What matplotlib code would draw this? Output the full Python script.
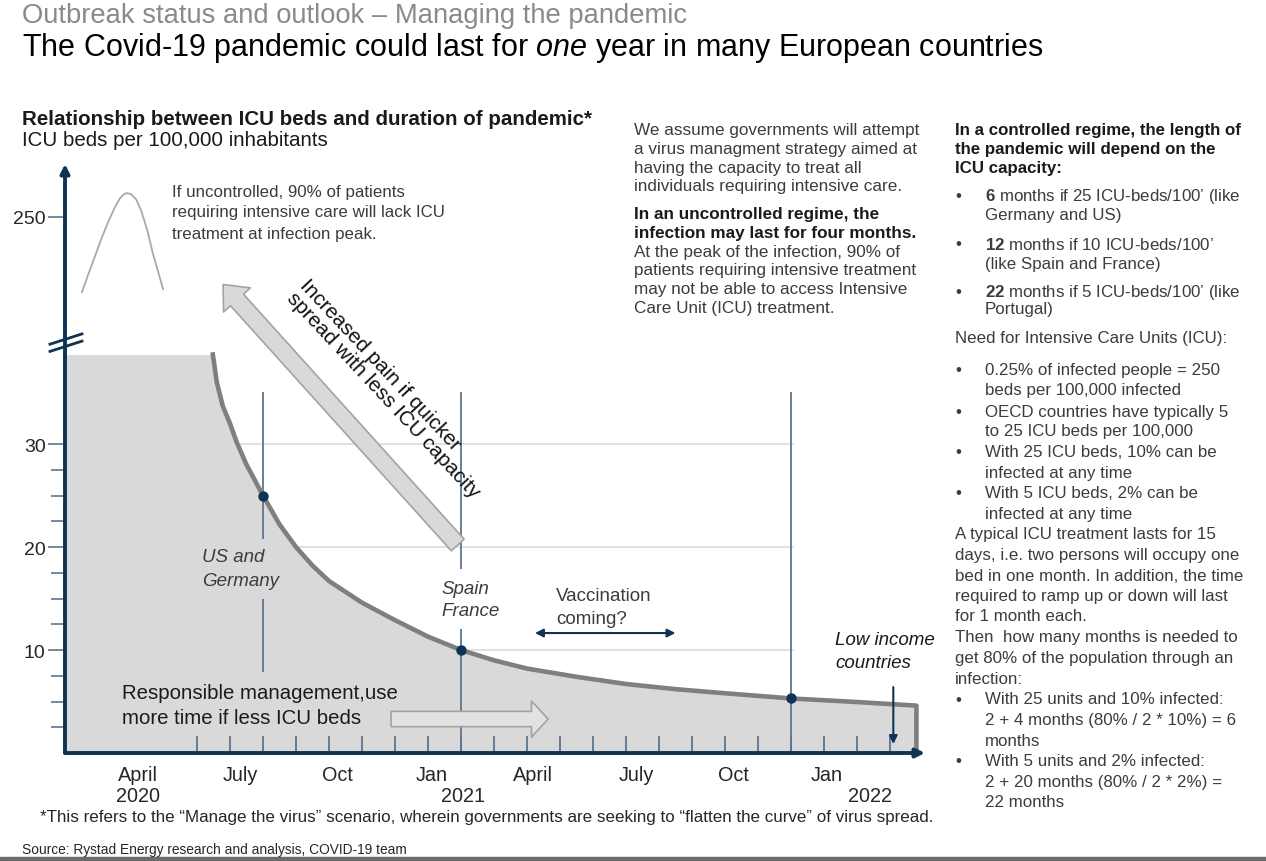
import matplotlib
matplotlib.use("Agg")
import matplotlib.pyplot as plt
from matplotlib.patches import FancyArrowPatch, ArrowStyle, Rectangle

W, H = 1266, 862
plt.rcParams['font.family'] = ['Liberation Sans', 'DejaVu Sans']
plt.rcParams['mathtext.fontset'] = 'custom'
plt.rcParams['mathtext.rm'] = 'Liberation Sans'
plt.rcParams['mathtext.it'] = 'Liberation Sans:italic'
plt.rcParams['mathtext.bf'] = 'Liberation Sans:bold'

# ---------------- data ----------------
# months after the start of the pandemic vs ICU beds per 100,000
months_from_start = [0, 4.48, 4.6, 4.78, 5.0, 5.2, 5.5, 6.0, 6.5, 7.0, 7.5, 8.0, 9.0, 10.0,
                     11.0, 12.0, 13.0, 14.0, 15.5, 17.0, 18.5, 20.0, 22.0, 24.0, 25.8]
icu_beds = [38.7, 38.7, 36.0, 33.7, 32.0, 30.2, 28.0, 25.0, 22.2, 20.0, 18.2, 16.7, 14.6, 12.9,
            11.3, 10.0, 9.0, 8.2, 7.4, 6.7, 6.2, 5.8, 5.3, 4.95, 4.6]
# country markers
country_months = [6, 12, 22]
country_beds = [25, 10, 5.3]
# uncontrolled peak sketch (drawn above the axis break)
uncontrolled_months = [0.515, 0.697, 0.909, 1.121, 1.333, 1.515, 1.667, 1.788, 1.879, 2.0,
                       2.152, 2.303, 2.485, 2.667, 2.818, 2.97]
uncontrolled_level = [44.76, 46.41, 48.25, 50.10, 51.75, 53.01, 53.88, 54.27, 54.37, 54.27,
                      53.79, 52.72, 50.87, 48.45, 46.8, 45.05]
# axis labels
month_label_pos = [2.21, 5.3, 8.27, 11.12, 14.18, 17.3, 20.27, 23.09]
month_labels = ['April', 'July', 'Oct', 'Jan', 'April', 'July', 'Oct', 'Jan']
year_label_pos = [2.2, 12.06, 24.4]
year_labels = ['2020', '2021', '2022']
ytick_values = [10, 20, 30]
upper_tick_label = '250'
upper_tick_pos = 52.1   # position of 250 above the axis break
grid_levels = [10, 20, 30]

NAVY = '#0f3354'
LINE = '#5b7590'
TXT = '#3c3c3c'

fig = plt.figure(figsize=(W / 100, H / 100), dpi=100)
fig.patch.set_facecolor('white')


def ftext(x, y, s, **kw):
    kw.setdefault('va', 'center')
    return fig.text(x / W, 1 - y / H, s, **kw)


# ---------------- axes ----------------
x0, x1, ytop, ybot = 65, 925, 165, 754
ax = fig.add_axes([x0 / W, 1 - ybot / H, (x1 - x0) / W, (ybot - ytop) / H])
ax.set_xlim(0, 26.06)
ax.set_ylim(0, 57.2)
ax.patch.set_alpha(0)
for s in ax.spines.values():
    s.set_visible(False)

# grid
ax.hlines(grid_levels, 0, 22.1, color='#dcdcdc', lw=1.2, zorder=0)

# shaded area and curve
ax.fill_between(months_from_start, icu_beds, 0, color='#d9d9d9', lw=0, zorder=1)
ax.plot(months_from_start[1:] + [months_from_start[-1]], icu_beds[1:] + [0],
        color='#7f7f7f', lw=3.3, zorder=3, solid_joinstyle='round', clip_on=False)

# vertical reference lines (gaps for labels)
ax.vlines([6, 6], [20.8, 7.9], [35.1, 15.0], color=LINE, lw=1.3, zorder=2)
ax.vlines([12, 12], [17.9, 0], [35.1, 12.0], color=LINE, lw=1.3, zorder=2)
ax.vlines([22], [0], [35.1], color=LINE, lw=1.3, zorder=2)
ax.scatter(country_months, country_beds, s=42, color=NAVY, zorder=6)

# uncontrolled sketch
ax.plot(uncontrolled_months, uncontrolled_level, color='#a9a9a9', lw=1.3, zorder=2)

# axis arrows
ax.annotate('', xy=(1.0, 0), xytext=(0, 0), xycoords='axes fraction',
            arrowprops=dict(arrowstyle='-|>', color=NAVY, lw=2.8, mutation_scale=13,
                            shrinkA=0, shrinkB=0), zorder=7)
ax.annotate('', xy=(0, 1.0), xytext=(0, 0), xycoords='axes fraction',
            arrowprops=dict(arrowstyle='-|>', color=NAVY, lw=2.8, mutation_scale=13,
                            shrinkA=0, shrinkB=0), zorder=7)

# axis break marks
ax.plot([-0.455, 0.515], [39.7, 40.7], color=NAVY, lw=2, clip_on=False, zorder=8)
ax.plot([-0.455, 0.515], [39.0, 40.0], color=NAVY, lw=2, clip_on=False, zorder=8)

# y ticks
ax.set_yticks(ytick_values + [upper_tick_pos], labels=[str(v) for v in ytick_values] + [upper_tick_label])
ax.set_yticks([2.5, 5, 7.5, 12.5, 15, 17.5, 22.5, 25, 27.5], minor=True)
ax.tick_params(axis='y', which='major', direction='out', length=12, width=1.2,
               color=LINE, labelsize=14, labelcolor='#262626', pad=2)
ax.tick_params(axis='y', which='minor', direction='out', length=10, width=1.2, color=LINE)

# x ticks
ax.set_xticks(month_label_pos, labels=month_labels)
ax.set_xticks(list(range(4, 26)), minor=True)
ax.tick_params(axis='x', which='major', length=0, labelsize=14.3, labelcolor='#262626', pad=9)
ax.tick_params(axis='x', which='minor', direction='in', length=12, width=1.3, color=LINE)
xt = ax.get_xaxis_transform()
for p, lab in zip(year_label_pos, year_labels):
    ax.text(p, -(797 - 754) / (754 - 165), lab, transform=xt, ha='center', va='center',
            fontsize=14.3, color='#262626')

# block arrows
pain = FancyArrowPatch(posA=(11.9, 20.2), posB=(4.79, 45.5),
                       arrowstyle=ArrowStyle.Simple(head_length=15, head_width=26, tail_width=12.5),
                       mutation_scale=1, fc='#d9d9d9', ec='#a3a3a3', lw=1.2,
                       shrinkA=0, shrinkB=0, zorder=4)
ax.add_patch(pain)
resp = FancyArrowPatch(posA=(9.88, 3.3), posB=(14.64, 3.3),
                       arrowstyle=ArrowStyle.Simple(head_length=12, head_width=26, tail_width=11),
                       mutation_scale=1, fc='#e2e2e2', ec='#a3a3a3', lw=1.2,
                       shrinkA=0, shrinkB=0, zorder=4)
ax.add_patch(resp)
ax.annotate('', xy=(18.5, 11.65), xytext=(14.24, 11.65),
            arrowprops=dict(arrowstyle='<|-|>', color=NAVY, lw=1.5, mutation_scale=12,
                            shrinkA=0, shrinkB=0), zorder=6)
ax.annotate('', xy=(25.1, 0.87), xytext=(25.1, 6.4),
            arrowprops=dict(arrowstyle='-|>', color=NAVY, lw=1.5, mutation_scale=12,
                            shrinkA=0, shrinkB=0), zorder=6)

# ---------------- text ----------------
ftext(22, 16, 'Outbreak status and outlook – Managing the pandemic', fontsize=19.7, color='#8a8a8a')
ftext(22, 48, r'The Covid-19 pandemic could last for $\mathit{one}$ year in many European countries',
      fontsize=22.0, color='black')
ftext(22, 120, 'Relationship between ICU beds and duration of pandemic*', fontsize=14.8,
      fontweight='bold', color='#1a1a1a')
ftext(22, 140, 'ICU beds per 100,000 inhabitants', fontsize=14.8, color='#1a1a1a')

for i, s in enumerate(['If uncontrolled, 90% of patients',
                       'requiring intensive care will lack ICU',
                       'treatment at infection peak.']):
    ftext(172, 192 + 21 * i, s, fontsize=12.2, color=TXT)

ftext(390, 389, 'Increased pain if quicker\nspread with less ICU capacity', fontsize=15,
      rotation=-47, ha='center', va='center', rotation_mode='anchor', multialignment='left',
      color='#111111', linespacing=0.92)

ftext(202, 558, 'US and', fontsize=13.5, style='italic', color=TXT)
ftext(202, 582, 'Germany', fontsize=13.5, style='italic', color=TXT)
ftext(441, 589, 'Spain', fontsize=13.5, style='italic', color=TXT)
ftext(441, 611, 'France', fontsize=13.5, style='italic', color=TXT)
ftext(556, 597, 'Vaccination', fontsize=13.5, color=TXT)
ftext(556, 620, 'coming?', fontsize=13.5, color=TXT)
ftext(835, 641, 'Low income', fontsize=13.5, style='italic', color='#1a1a1a')
ftext(835, 664, 'countries', fontsize=13.5, style='italic', color='#1a1a1a')
ftext(122, 694, 'Responsible management,use', fontsize=14.7, color='#1a1a1a')
ftext(122, 719, 'more time if less ICU beds', fontsize=14.7, color='#1a1a1a')

mid_lines = [
    ('We assume governments will attempt', 'normal'),
    ('a virus managment strategy aimed at', 'normal'),
    ('having the capacity to treat all', 'normal'),
    ('individuals requiring intensive care.', 'normal'),
    ('In an uncontrolled regime, the', 'bold'),
    ('infection may last for four months.', 'bold'),
    ('At the peak of the infection, 90% of', 'normal'),
    ('patients requiring intensive treatment', 'normal'),
    ('may not be able to access Intensive', 'normal'),
    ('Care Unit (ICU) treatment.', 'normal'),
]
mid_y = [131, 149.7, 168.4, 187, 214.5, 233.2, 252, 270.6, 289.3, 308]
for (s, w), y in zip(mid_lines, mid_y):
    ftext(634, y, s, fontsize=12.3, fontweight=w, color='#1a1a1a' if w == 'bold' else TXT)

right_lines = [
    (131, 'p', 'In a controlled regime, the length of', 'bold'),
    (149.5, 'p', 'the pandemic will depend on the', 'bold'),
    (168.5, 'p', 'ICU capacity:', 'bold'),
    (197, 'b', r'$\mathbf{6}$ months if 25 ICU-beds/100’ (like', 'normal'),
    (216, 'i', 'Germany and US)', 'normal'),
    (245, 'b', r'$\mathbf{12}$ months if 10 ICU-beds/100’', 'normal'),
    (264, 'i', '(like Spain and France)', 'normal'),
    (292, 'b', r'$\mathbf{22}$ months if 5 ICU-beds/100’ (like', 'normal'),
    (310, 'i', 'Portugal)', 'normal'),
    (339, 'p', 'Need for Intensive Care Units (ICU):', 'normal'),
    (371, 'b', '0.25% of infected people = 250', 'normal'),
    (391, 'i', 'beds per 100,000 infected', 'normal'),
    (412, 'b', 'OECD countries have typically 5', 'normal'),
    (432, 'i', 'to 25 ICU beds per 100,000', 'normal'),
    (453, 'b', 'With 25 ICU beds, 10% can be', 'normal'),
    (474, 'i', 'infected at any time', 'normal'),
    (494, 'b', 'With 5 ICU beds, 2% can be', 'normal'),
    (515, 'i', 'infected at any time', 'normal'),
    (535, 'p', 'A typical ICU treatment lasts for 15', 'normal'),
    (556, 'p', 'days, i.e. two persons will occupy one', 'normal'),
    (576.5, 'p', 'bed in one month. In addition, the time', 'normal'),
    (597, 'p', 'required to ramp up or down will last', 'normal'),
    (617, 'p', 'for 1 month each.', 'normal'),
    (638, 'p', 'Then  how many months is needed to', 'normal'),
    (659, 'p', 'get 80% of the population through an', 'normal'),
    (679, 'p', 'infection:', 'normal'),
    (700, 'b', 'With 25 units and 10% infected:', 'normal'),
    (721, 'i', '2 + 4 months (80% / 2 * 10%) = 6', 'normal'),
    (742, 'i', 'months', 'normal'),
    (762, 'b', 'With 5 units and 2% infected:', 'normal'),
    (783, 'i', '2 + 20 months (80% / 2 * 2%) =', 'normal'),
    (803, 'i', '22 months', 'normal'),
]
for y, kind, s, w in right_lines:
    if kind == 'p':
        ftext(955, y, s, fontsize=12.2, fontweight=w, color='#1a1a1a' if w == 'bold' else TXT)
    else:
        if kind == 'b':
            ftext(955, y, '•', fontsize=12.2, color=TXT)
        ftext(985, y, s, fontsize=12.2, color=TXT)

ftext(40, 818, '*This refers to the “Manage the virus” scenario, wherein governments are seeking to '
      '“flatten the curve” of virus spread.', fontsize=12.27, color='#262626')
ftext(22, 850, 'Source: Rystad Energy research and analysis, COVID-19 team', fontsize=9.9, color='#262626')

fig.patches.append(Rectangle((0, 0), 1, 4 / H, transform=fig.transFigure, color='#6a6a6a', zorder=0))

fig.savefig('out.png', dpi=100)
